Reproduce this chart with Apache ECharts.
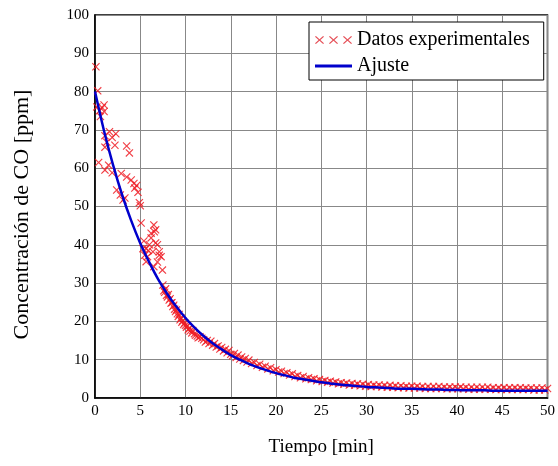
<!DOCTYPE html>
<html>
<head>
<meta charset="utf-8">
<script src="https://cdn.jsdelivr.net/npm/echarts@6/dist/echarts.min.js"></script>
<style>
html,body{margin:0;padding:0;background:#fff;}
#chart{width:558px;height:466px;}
</style>
</head>
<body>
<div id="chart"></div>
<script>
// Experimental data: time [min]
const expTime = [
0.1,0.3,0.2,0.5,0.8,1.0,0.6,1.0,1.6,2.3,1.1,1.9,1.3,1.1,2.2,3.5,3.8,0.4,1.5,1.1,
1.9,2.9,3.5,4.0,4.3,4.6,4.4,2.4,2.8,4.75,3.1,3.3,4.9,5.0,5.1,6.5,6.7,6.2,6.55,5.4,
6.2,6.7,6.0,6.9,5.3,5.65,6.4,7.1,5.5,5.8,7.1,7.3,5.65,6.5,7.45,6.9,5.9,
7.5,7.6,7.7,7.8,7.9,8.0,8.1,8.2,8.3,8.4,8.5,8.6,8.7,8.8,8.9,9.0,9.1,9.2,9.3,9.4,
9.5,9.6,9.7,9.8,9.9,10.0,10.1,10.2,10.3,10.4,10.5,10.7,10.8,11.0,11.1,11.3,11.4,11.6,11.8,12.0,
12.2,12.4,12.6,12.8,13.0,13.2,13.4,13.6,13.8,14.0,14.2,14.4,14.6,14.8,15.0,15.2,15.4,15.6,15.8,16.0,
16.2,16.4,16.6,16.8,17.0,17.3,17.6,17.9,18.2,18.5,18.8,19.1,19.4,19.7,20.0,20.3,20.6,20.9,21.2,21.5,
21.8,22.1,22.4,22.7,23.0,23.3,23.6,23.9,24.2,24.5,24.8,25.1,25.4,25.7,26.0,26.3,26.6,26.9,27.2,27.5,
27.8,28.1,28.4,28.7,29.0,29.3,29.6,29.9,30.2,30.5,30.8,31.1,31.4,31.7,32.0,32.3,32.6,32.9,33.2,33.5,
33.8,34.1,34.4,34.7,35.0,35.3,35.6,35.9,36.2,36.5,36.8,37.1,37.4,37.7,38.0,38.3,38.6,38.9,39.2,39.5,
39.8,40.1,40.4,40.7,41.0,41.3,41.6,41.9,42.2,42.5,42.8,43.1,43.4,43.7,44.0,44.3,44.6,44.9,45.2,45.5,
45.8,46.1,46.4,46.7,47.0,47.3,47.6,47.9,48.2,48.5,48.8,49.1,49.4,49.7,50.0
];
// Experimental data: CO concentration [ppm]
const expConc = [
86.5,80.2,76.0,75.0,75.8,76.5,73.5,74.8,69.5,69.0,68.5,68.0,66.8,65.5,66.0,65.8,64.0,61.5,60.8,59.5,
58.8,58.6,57.7,56.9,56.0,55.5,54.8,54.3,53.0,53.7,51.7,52.2,51.0,50.2,45.7,45.2,43.9,43.0,43.4,41.0,
41.8,40.5,40.0,40.0,39.0,39.0,38.2,38.2,37.3,36.9,37.3,36.9,35.6,34.3,33.4,35.5,38.5,
29.5,28.0,27.6,28.5,26.8,26.4,27.0,25.6,25.9,24.8,24.9,23.9,24.2,23.2,22.6,23.0,22.0,21.3,21.8,20.4,
20.9,19.8,20.2,19.2,19.6,19.0,18.5,18.9,17.8,18.2,17.5,17.0,17.6,16.8,16.4,16.2,15.7,16.0,15.6,15.2,
14.6,15.0,14.2,14.8,13.8,14.2,13.3,13.6,12.8,13.2,12.3,12.7,11.8,12.4,11.4,11.0,11.6,10.6,11.2,10.2,
10.7,9.8,10.3,9.4,9.9,9.0,9.3,8.5,8.8,8.0,8.3,7.6,7.9,7.1,7.4,6.8,7.0,6.4,6.6,6.0,
6.3,5.6,5.9,5.3,5.6,5.0,5.3,4.8,5.0,4.5,4.8,4.3,4.6,4.1,4.4,3.9,4.2,3.7,4.0,3.6,
3.9,3.4,3.8,3.3,3.7,3.2,3.6,3.1,3.5,3.0,3.4,3.0,3.4,2.9,3.3,2.8,3.3,2.8,3.2,2.7,
3.2,2.7,3.1,2.6,3.1,2.6,3.1,2.6,3.0,2.5,3.0,2.5,3.0,2.5,3.0,2.5,2.9,2.4,2.9,2.4,
2.9,2.4,2.9,2.4,2.8,2.3,2.8,2.3,2.8,2.3,2.8,2.3,2.8,2.3,2.7,2.2,2.7,2.2,2.7,2.2,
2.7,2.2,2.7,2.2,2.7,2.2,2.6,2.2,2.6,2.1,2.6,2.1,2.6,2.1,2.5
];
// Fitted curve
const fitTime = [0,1,2,3,4,5,6,7,8,9,10,11,12,13,14,15,16,17,18,19,20,21,22,23,24,25,
26,27,28,29,30,31,32,33,34,35,36,37,38,39,40,41,42,43,44,45,46,47,48,49,50];
const fitConc = [80.0,69.7,60.8,53.0,46.3,40.4,35.4,30.9,27.1,23.8,20.9,18.4,16.2,14.3,12.7,11.2,
10.0,8.9,8.0,7.2,6.5,5.9,5.3,4.9,4.5,4.1,3.8,3.5,3.3,3.1,2.9,2.8,2.7,2.5,2.4,2.4,
2.3,2.2,2.2,2.1,2.1,2.0,2.0,2.0,1.9,1.9,1.9,1.9,1.9,1.9,1.9];

const xTicks = {min:0, max:50, interval:5};
const yTicks = {min:0, max:100, interval:10};
const seriesNames = ['Datos experimentales', 'Ajuste'];
const xTitle = 'Tiempo [min]';
const yTitle = 'Concentración de CO [ppm]';

const FONT = '"Liberation Serif", "Times New Roman", serif';
const CROSS = 'path://M0,1 L1,0 L5,4 L9,0 L10,1 L6,5 L10,9 L9,10 L5,6 L1,10 L0,9 L4,5 Z';
const CROSS3 = 'path://M0,0.8 L0.9,0 L4.5,3.2 L8.1,0 L9,0.8 L5.4,4 L9,7.2 L8.1,8 L4.5,4.8 L0.9,8 L0,7.2 L3.6,4 Z ' +
  'M14,0.8 L14.9,0 L18.5,3.2 L22.1,0 L23,0.8 L19.4,4 L23,7.2 L22.1,8 L18.5,4.8 L14.9,8 L14,7.2 L17.6,4 Z ' +
  'M28,0.8 L28.9,0 L32.5,3.2 L36.1,0 L37,0.8 L33.4,4 L37,7.2 L36.1,8 L32.5,4.8 L28.9,8 L28,7.2 L31.6,4 Z';
const LINEICON = 'path://M0,0 L0.01,0 L0,0.01 Z M37,8 L36.99,8 L37,7.99 Z M0,2.6 L37,2.6 L37,5.4 L0,5.4 Z';

const expData = expTime.map((t, i) => [t, expConc[i]]);
const fitData = fitTime.map((t, i) => [t, fitConc[i]]);

const chart = echarts.init(document.getElementById('chart'), null, {renderer: 'canvas'});
chart.setOption({
  backgroundColor: '#ffffff',
  animation: false,
  textStyle: {fontFamily: FONT},
  grid: {left: 95, right: 3, top: 15, bottom: 68, show: true, borderColor: '#000', borderWidth: 1.5, backgroundColor: 'transparent'},
  legend: {
    orient: 'vertical',
    left: 309, top: 22,
    backgroundColor: '#fff',
    borderColor: '#000', borderWidth: 1, borderRadius: 0,
    padding: [8, 14, 4, 6],
    itemWidth: 37, itemHeight: 8, itemGap: 6,
    textStyle: {fontFamily: FONT, fontSize: 20, color: '#000'},
    data: [
      {name: seriesNames[0], icon: CROSS3, itemStyle: {color: '#e0303a'}},
      {name: seriesNames[1], icon: LINEICON, itemStyle: {color: '#0000cc'}}
    ]
  },
  xAxis: {
    type: 'value', min: xTicks.min, max: xTicks.max, interval: xTicks.interval,
    name: xTitle, nameLocation: 'middle', nameGap: 40,
    nameTextStyle: {fontFamily: FONT, fontSize: 19, color: '#000'},
    axisLine: {show: true, onZero: false, lineStyle: {color: '#000', width: 1.5}},
    axisTick: {show: false},
    axisLabel: {fontFamily: FONT, fontSize: 15, color: '#000', margin: 6},
    splitLine: {show: true, lineStyle: {color: '#888', width: 1}}
  },
  yAxis: {
    type: 'value', min: yTicks.min, max: yTicks.max, interval: yTicks.interval,
    name: yTitle, nameLocation: 'middle', nameGap: 62,
    nameTextStyle: {fontFamily: FONT, fontSize: 22, color: '#000', padding: [0, 16, 0, 0]},
    axisLine: {show: true, lineStyle: {color: '#000', width: 1.5}},
    axisTick: {show: false},
    axisLabel: {fontFamily: FONT, fontSize: 15, color: '#000', margin: 6},
    splitLine: {show: true, lineStyle: {color: '#888', width: 1}}
  },
  series: [
    {
      name: seriesNames[0], type: 'scatter', data: expData,
      symbol: CROSS, symbolSize: 8,
      itemStyle: {color: '#ee1c24', opacity: 0.85},
      clip: true, z: 2
    },
    {
      name: seriesNames[1], type: 'line', data: fitData,
      smooth: 0.3, symbol: 'none', showSymbol: false,
      lineStyle: {color: '#0000cc', width: 2.5},
      itemStyle: {color: '#0000cc'},
      clip: true, z: 3
    }
  ]
});
</script>
</body>
</html>
